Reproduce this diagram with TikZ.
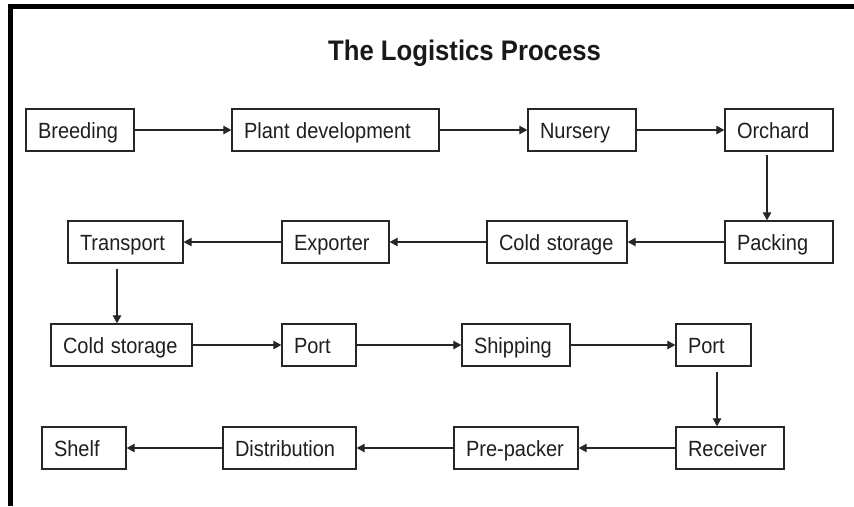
\documentclass[tikz,border=0pt]{standalone}
\usepackage{fontspec}
\setmainfont{Liberation Sans}
\usetikzlibrary{arrows.meta}
\newcommand\bx[6]{%
 \pgfmathsetmacro\bxw{#4-#2-24}%
 \pgfmathsetmacro\bxx{(#2+#4)/2}%
 \pgfmathsetmacro\bxy{(#3+#5)/2}%
 \node[box, text width=\bxw pt] (#1) at (\bxx,\bxy) {\scalebox{1}[1.1]{#6}};}
\begin{document}
\begin{tikzpicture}[x=1pt,y={(0pt,-1pt)},
  box/.style={draw=black!85, line width=1.4pt, inner xsep=12pt, align=left,
    minimum height=42pt, text height=17pt, text depth=0pt,
    font=\fontsize{20pt}{22pt}\selectfont, text=black!88},
  arr/.style={draw=black!85, line width=1.2pt, -{Triangle[length=8pt,width=8.5pt]}},
  frame/.style={line width=4.8pt, black}]
\useasboundingbox[fill=white] (0,0) rectangle (854,506);
\draw[frame] (8,6.7) -- (854,6.7);
\draw[frame] (10.5,4.3) -- (10.5,506);
\node[anchor=base, font=\bfseries\fontsize{25.7pt}{28pt}\selectfont, text=black!90] (title) at (464.5,60) {\scalebox{1}[1.1]{The Logistics Process}};
% row 1
\bx{breed}{26}{108.5}{134}{151.5}{Breeding}
\bx{plant}{232}{108.5}{439}{151.5}{Plant development}
\bx{nurs}{528}{108.5}{636}{151.5}{Nursery}
\bx{orch}{725}{108.5}{833}{151.5}{Orchard}
% row 2
\bx{trans}{68}{221}{183}{263}{Transport}
\bx{expo}{282}{221}{389}{263}{Exporter}
\bx{cold}{487}{221}{627}{263}{Cold storage}
\bx{pack}{725}{221}{833}{263}{Packing}
% row 3
\bx{cold2}{51}{324}{192}{366}{Cold storage}
\bx{port}{282}{324}{356}{366}{Port}
\bx{ship}{462}{324}{570}{366}{Shipping}
\bx{port2}{676}{324}{751}{366}{Port}
% row 4
\bx{shelf}{42}{427}{126}{469}{Shelf}
\bx{dist}{223}{427}{356}{469}{Distribution}
\bx{prep}{454}{427}{578}{469}{Pre-packer}
\bx{recv}{676}{427}{784}{469}{Receiver}
% connectors
\draw[arr] (breed) -- (plant);
\draw[arr] (plant) -- (nurs);
\draw[arr] (nurs) -- (orch);
\coordinate (a1) at ([xshift=-12pt,yshift=-3pt]orch.south);
\draw[arr] (a1) -- (a1 |- pack.north);
\draw[arr] (pack) -- (cold);
\draw[arr] (cold) -- (expo);
\draw[arr] (expo) -- (trans);
\coordinate (a2) at ([xshift=-8.5pt,yshift=-5pt]trans.south);
\draw[arr] (a2) -- (a2 |- cold2.north);
\draw[arr] (cold2) -- (port);
\draw[arr] (port) -- (ship);
\draw[arr] (ship) -- (port2);
\coordinate (a3) at ([xshift=3.5pt,yshift=-5pt]port2.south);
\draw[arr] (a3) -- (a3 |- recv.north);
\draw[arr] (recv) -- (prep);
\draw[arr] (prep) -- (dist);
\draw[arr] (dist) -- (shelf);
\end{tikzpicture}
\end{document}
